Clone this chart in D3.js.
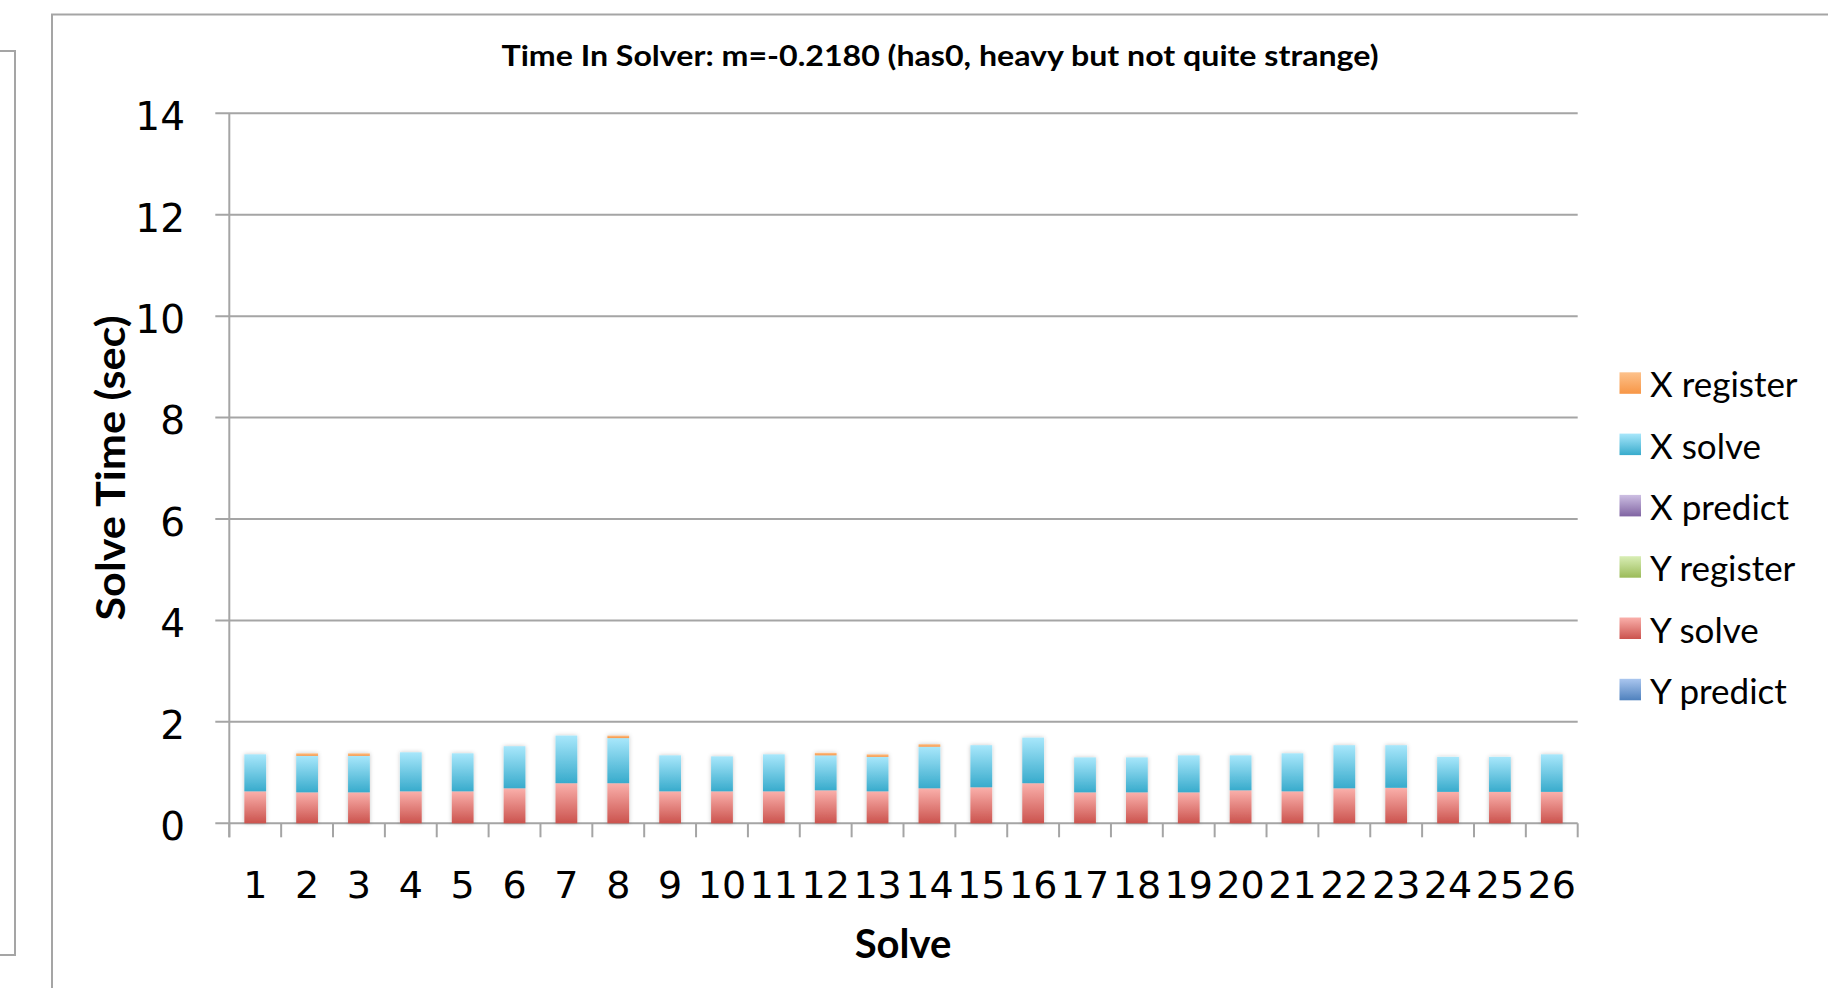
<!DOCTYPE html>
<html>
<head>
<meta charset="utf-8">
<script src="https://cdn.jsdelivr.net/npm/d3@7/dist/d3.min.js"></script>
<style>
  html, body { margin: 0; padding: 0; background: #ffffff; }
  svg { display: block; }
</style>
</head>
<body>
<svg id="chart" width="1828" height="988"></svg>
<script>
// Solve indices along the x axis
const categories = ["1","2","3","4","5","6","7","8","9","10","11","12","13","14","15","16","17","18","19","20","21","22","23","24","25","26"];

// Per-solve timings (seconds), one array per stage
const yPredict  = [0,0,0,0,0,0,0,0,0,0,0,0,0,0,0,0,0,0,0,0,0,0,0,0,0,0];
const ySolve    = [0.63,0.61,0.61,0.63,0.63,0.69,0.79,0.79,0.63,0.63,0.63,0.65,0.63,0.69,0.71,0.79,0.61,0.61,0.61,0.65,0.63,0.69,0.70,0.62,0.62,0.62];
const yRegister = [0,0,0,0,0,0,0,0,0,0,0,0,0,0,0,0,0,0,0,0,0,0,0,0,0,0];
const xPredict  = [0,0,0,0,0,0,0,0,0,0,0,0,0,0,0,0,0,0,0,0,0,0,0,0,0,0];
const xSolve    = [0.73,0.72,0.72,0.77,0.75,0.83,0.94,0.89,0.71,0.69,0.73,0.69,0.68,0.82,0.83,0.90,0.69,0.69,0.73,0.69,0.75,0.85,0.84,0.69,0.69,0.74];
const xRegister = [0,0.05,0.05,0,0,0,0,0.05,0,0,0,0.05,0.05,0.05,0,0,0,0,0,0,0,0,0,0,0,0];

// Axis ticks
const yTickValues = [0,2,4,6,8,10,12,14];

// Stack order, bottom to top
const seriesNames = ["Y predict","Y solve","Y register","X predict","X solve","X register"];
const seriesValues = [yPredict, ySolve, yRegister, xPredict, xSolve, xRegister];
// Gradient stops per series: [top, bottom]
const seriesColors = [
  ["#aac6ef","#4f81bd"],
  ["#fab0ab","#cb534e"],
  ["#d9eeb6","#9bbb59"],
  ["#cdbfe3","#8064a2"],
  ["#a8e7fb","#38abcc"],
  ["#fdc28c","#f79646"]
];

const table = categories.map((c, i) => {
  const row = { cat: c };
  seriesNames.forEach((s, k) => { row[s] = seriesValues[k][i]; });
  return row;
});

const svg = d3.select("#chart");
const gridColor = "#a5a5a5";

// Page frames
svg.append("path")
  .attr("d", "M0,51 H15 V955 H0")
  .attr("fill", "none").attr("stroke", gridColor).attr("stroke-width", 2);
svg.append("path")
  .attr("d", "M52,988 V14.5 H1828")
  .attr("fill", "none").attr("stroke", gridColor).attr("stroke-width", 2);

// Gradients
const defs = svg.append("defs");
seriesNames.forEach((s, k) => {
  const g = defs.append("linearGradient")
    .attr("id", "grad" + k)
    .attr("x1", 0).attr("y1", 0).attr("x2", 0).attr("y2", 1);
  g.append("stop").attr("offset", "0%").attr("stop-color", seriesColors[k][0]);
  g.append("stop").attr("offset", "100%").attr("stop-color", seriesColors[k][1]);
});
const shadow = defs.append("filter").attr("id", "barShadow")
  .attr("x", "-30%").attr("y", "-10%").attr("width", "160%").attr("height", "120%");
shadow.append("feDropShadow")
  .attr("dx", 0).attr("dy", 0).attr("stdDeviation", 2)
  .attr("flood-color", "#000").attr("flood-opacity", 0.22);

// Scales
const plotLeft = 229.3, plotRight = 1577.7, plotTop = 113.3, plotBottom = 823.3;
const x = d3.scaleBand().domain(categories).range([plotLeft, plotRight]).padding(0);
const y = d3.scaleLinear().domain([0, 14]).range([plotBottom, plotTop]);

// Horizontal gridlines (with a short tick left of the axis)
svg.append("g").selectAll("line")
  .data(yTickValues)
  .join("line")
  .attr("x1", plotLeft - 14).attr("x2", plotRight)
  .attr("y1", d => y(d)).attr("y2", d => y(d))
  .attr("stroke", gridColor).attr("stroke-width", 2);

// Vertical axis line
svg.append("line")
  .attr("x1", plotLeft).attr("x2", plotLeft)
  .attr("y1", plotTop).attr("y2", plotBottom + 14)
  .attr("stroke", gridColor).attr("stroke-width", 2);

// Category boundary ticks
const boundaries = categories.map(c => x(c)).concat([plotRight]);
svg.append("g").selectAll("line")
  .data(boundaries)
  .join("line")
  .attr("x1", d => d).attr("x2", d => d)
  .attr("y1", plotBottom).attr("y2", plotBottom + 14)
  .attr("stroke", gridColor).attr("stroke-width", 2);

// Stacked bars
const stack = d3.stack().keys(seriesNames);
const layers = stack(table);
const barW = x.bandwidth() * 0.42;
const barsG = svg.append("g").attr("filter", "url(#barShadow)");
layers.forEach((layer, k) => {
  barsG.append("g")
    .selectAll("rect")
    .data(layer.filter(d => d[1] - d[0] > 0))
    .join("rect")
    .attr("x", d => x(d.data.cat) + (x.bandwidth() - barW) / 2)
    .attr("width", barW)
    .attr("y", d => y(d[1]))
    .attr("height", d => y(d[0]) - y(d[1]))
    .attr("fill", "url(#grad" + k + ")");
});

// Y tick labels
const yAxis = d3.axisLeft(y).tickValues(yTickValues).tickSize(0).tickPadding(0);
const yAxisG = svg.append("g").attr("transform", `translate(${185},0)`).call(yAxis);
yAxisG.select(".domain").remove();
yAxisG.selectAll("text")
  .attr("font-family", "'DejaVu Sans', sans-serif")
  .attr("font-size", 39).attr("fill", "#000").attr("dy", "0.42em");

// X tick labels
const xAxis = d3.axisBottom(x).tickSize(0).tickPadding(0);
const xAxisG = svg.append("g").attr("transform", `translate(0,${870})`).call(xAxis);
xAxisG.select(".domain").remove();
xAxisG.selectAll("text")
  .attr("font-family", "'DejaVu Sans', sans-serif")
  .attr("font-size", 38).attr("fill", "#000").attr("dy", "0.74em");

// Title
svg.append("text")
  .attr("x", 940).attr("y", 66)
  .attr("text-anchor", "middle")
  .attr("font-family", "Lato, sans-serif").attr("font-weight", "bold")
  .attr("font-size", 29).attr("fill", "#000")
  .attr("textLength", 877).attr("lengthAdjust", "spacingAndGlyphs")
  .text("Time In Solver: m=-0.2180 (has0, heavy but not quite strange)");

// Axis titles
svg.append("text")
  .attr("transform", "translate(125,468) rotate(-90)")
  .attr("text-anchor", "middle")
  .attr("font-family", "Lato, sans-serif").attr("font-weight", "bold")
  .attr("font-size", 40).attr("fill", "#000")
  .attr("textLength", 305).attr("lengthAdjust", "spacingAndGlyphs")
  .text("Solve Time (sec)");

svg.append("text")
  .attr("x", 903).attr("y", 958)
  .attr("text-anchor", "middle")
  .attr("font-family", "Lato, sans-serif").attr("font-weight", "bold")
  .attr("font-size", 40).attr("fill", "#000")
  .text("Solve");

// Legend (top entry is the top of the stack)
const legendNames = seriesNames.slice().reverse();
const legend = svg.append("g");
legendNames.forEach((s, i) => {
  const k = seriesNames.indexOf(s);
  const top = 372.3 + i * 61.3;
  legend.append("rect")
    .attr("x", 1619.5).attr("y", top)
    .attr("width", 21.5).attr("height", 21.5)
    .attr("fill", "url(#grad" + k + ")");
  legend.append("text")
    .attr("x", 1650).attr("y", top + 25)
    .attr("font-family", "Lato, sans-serif")
    .attr("font-size", 35).attr("fill", "#000")
    .text(s);
});
</script>
</body>
</html>
